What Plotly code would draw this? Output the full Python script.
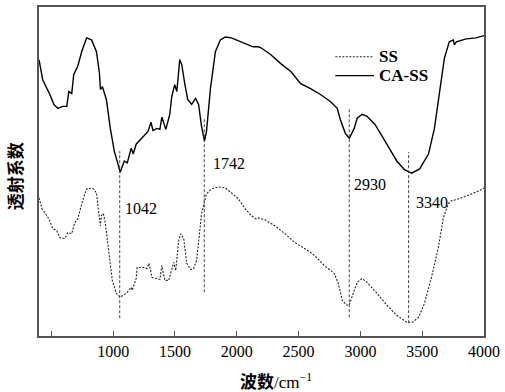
import plotly.graph_objects as go

# CA-SS spectrum (wavenumber cm^-1, transmittance a.u.)
ca_wn = [400, 430, 488, 520, 552, 592, 625, 641, 665, 681, 713, 745, 785, 825, 865, 889, 897, 913, 945, 977,
         1009, 1057, 1090, 1114, 1146, 1162, 1186, 1234, 1282, 1306, 1322, 1354, 1378, 1394, 1426, 1458, 1474,
         1498, 1515, 1539, 1555, 1579, 1603, 1635, 1667, 1691, 1715, 1739, 1755, 1787, 1827, 1867, 1907, 1956,
         2068, 2132, 2172, 2196, 2276, 2356, 2437, 2517, 2597, 2677, 2757, 2813, 2837, 2878, 2910, 2950, 2974,
         3014, 3054, 3118, 3214, 3294, 3359, 3415, 3479, 3551, 3599, 3639, 3679, 3719, 3752, 3760, 3776, 3856,
         3936, 3992, 4000]
ca_t = [84.0, 77.9, 73.4, 70.4, 69.2, 69.8, 69.8, 74.3, 73.7, 79.5, 81.9, 86.4, 90.6, 90.0, 86.4, 79.8, 74.9, 75.8,
        71.9, 63.1, 56.2, 49.8, 53.2, 52.6, 57.1, 55.3, 58.3, 60.1, 62.2, 65.0, 62.5, 63.1, 62.8, 66.5, 62.8, 67.4,
        72.8, 76.4, 74.3, 84.0, 82.5, 76.7, 71.9, 70.4, 72.2, 70.4, 63.7, 59.2, 62.2, 75.2, 86.4, 90.0, 90.9, 90.6,
        88.8, 87.9, 87.9, 87.6, 85.5, 82.8, 80.4, 76.7, 75.2, 73.4, 71.3, 69.2, 65.9, 61.6, 60.1, 63.1, 66.2,
        67.4, 66.8, 64.3, 58.3, 53.2, 50.5, 49.5, 50.8, 55.3, 63.1, 73.4, 84.3, 89.4, 90.0, 88.5, 89.4, 90.3,
        90.6, 91.2, 91.3]

# SS spectrum
ss_wn = [400, 424, 448, 480, 512, 544, 568, 608, 633, 665, 689, 713, 753, 785, 833, 865, 881, 897, 905, 921, 937,
         961, 993, 1025, 1057, 1082, 1114, 1146, 1154, 1186, 1194, 1226, 1250, 1274, 1290, 1314, 1354, 1378, 1394,
         1418, 1450, 1474, 1490, 1506, 1530, 1547, 1571, 1595, 1627, 1651, 1675, 1707, 1715, 1755, 1795, 1851,
         1907, 1956, 2012, 2068, 2116, 2156, 2172, 2228, 2308, 2389, 2469, 2549, 2629, 2709, 2789, 2821, 2853,
         2886, 2910, 2942, 2974, 3014, 3054, 3134, 3214, 3294, 3375, 3423, 3471, 3519, 3575, 3631, 3671, 3711,
         3736, 3800, 3880, 3960, 4000]
ss_t = [42.0, 38.7, 37.5, 35.6, 32.6, 32.0, 29.9, 29.6, 31.4, 31.1, 34.4, 35.6, 41.1, 44.7, 45.0, 43.5, 38.1, 33.5,
        36.6, 37.2, 34.1, 26.0, 16.9, 13.0, 11.8, 12.4, 13.3, 14.8, 13.9, 17.5, 20.8, 20.8, 20.8, 20.5, 22.1, 17.8,
        17.5, 17.2, 21.4, 16.9, 16.9, 20.5, 22.4, 19.9, 29.0, 31.1, 29.6, 22.1, 20.2, 20.5, 23.0, 34.1, 37.2, 43.2,
        44.7, 45.3, 45.0, 43.5, 41.7, 38.7, 36.6, 35.6, 35.9, 35.3, 33.5, 31.1, 28.4, 26.6, 24.5, 21.4, 19.0,
        16.0, 10.9, 9.4, 9.4, 13.0, 16.3, 17.5, 16.3, 13.0, 9.4, 6.3, 4.2, 4.2, 5.7, 10.0, 17.8, 26.9, 35.9,
        40.2, 41.1, 41.7, 42.9, 44.1, 45.0]

# Peak markers
peak_wn = [1053, 1737, 2910, 3390]
peak_top = [56.2, 65.9, 69.5, 55.9]
peak_bottom = [5.4, 13.3, 5.7, 3.9]
peak_labels = ["1042", "1742", "2930", "3340"]
label_wn = [1082, 1795, 2934, 3431]
label_t = [38.7, 52.3, 46.2, 40.5]

series_names = ["SS", "CA-SS"]

tick_vals = [500, 1000, 1500, 2000, 2500, 3000, 3500, 4000]
tick_text = ["", "1000", "1500", "2000", "2500", "3000", "3500", "4000"]

SERIF = "Liberation Serif, Times New Roman, serif"
CJK = "Liberation Serif, Noto Sans CJK SC, serif"
AXC = "#555555"

W, H = 505, 392
ML, MR, MT, MB = 39, 17, 5, 56
PW, PH = W - ML - MR, H - MT - MB


def px2paper_x(px):
    return (px - ML) / PW


def px2paper_y(py):
    return (H - MB - py) / PH


fig = go.Figure()
styles = [dict(color="#222222", width=1.1, dash="2px,1.5px"), dict(color="black", width=1.4)]
fig.add_trace(go.Scatter(x=ss_wn, y=ss_t, mode="lines", name=series_names[0], line=styles[0]))
fig.add_trace(go.Scatter(x=ca_wn, y=ca_t, mode="lines", name=series_names[1], line=styles[1]))

for w, t0, t1 in zip(peak_wn, peak_top, peak_bottom):
    fig.add_shape(type="line", x0=w, x1=w, y0=t1, y1=t0, xref="x", yref="y",
                  line=dict(color="#444444", width=1, dash="3px,2px"))

for w, t, s in zip(label_wn, label_t, peak_labels):
    fig.add_annotation(x=w, y=t, text=s, showarrow=False, xanchor="left", yanchor="middle",
                       font=dict(family=SERIF, size=16, color="black"))

# custom legend
for i, (nm, st) in enumerate(zip(series_names, styles)):
    ly = 55 + i * 19
    fig.add_shape(type="line", xref="paper", yref="paper",
                  x0=px2paper_x(338), x1=px2paper_x(377), y0=px2paper_y(ly), y1=px2paper_y(ly),
                  line=dict(color=st["color"], width=st["width"], dash=st.get("dash", "solid")))
    fig.add_annotation(x=px2paper_x(380), y=px2paper_y(ly), xref="paper", yref="paper",
                       text="<b>%s</b>" % nm, showarrow=False, xanchor="left", yanchor="middle",
                       font=dict(family=SERIF, size=17, color="black"))

fig.add_annotation(x=px2paper_x(15), y=px2paper_y(175), xref="paper", yref="paper", text="<b>透射系数</b>",
                   textangle=-90, showarrow=False, xanchor="center", yanchor="middle",
                   font=dict(family="Noto Sans CJK SC", size=17, color="black"))
fig.add_annotation(x=px2paper_x(278), y=px2paper_y(381), xref="paper", yref="paper",
                   text="<b>波数</b>/cm<sup>−1</sup>", showarrow=False,
                   xanchor="center", yanchor="middle",
                   font=dict(family=CJK, size=17, color="black"))

fig.update_layout(
    width=W, height=H,
    margin=dict(l=ML, r=MR, t=MT, b=MB),
    paper_bgcolor="white", plot_bgcolor="white",
    showlegend=False,
    xaxis=dict(range=[400, 4000], tickvals=tick_vals, ticktext=tick_text,
               ticks="inside", ticklen=5, tickcolor=AXC, tickwidth=1.2,
               showline=True, linecolor=AXC, linewidth=1.5, mirror=True,
               showgrid=False, zeroline=False,
               tickfont=dict(family=SERIF, size=16, color="black")),
    yaxis=dict(range=[0, 100], showticklabels=False, ticks="",
               showline=True, linecolor=AXC, linewidth=1.5, mirror=True,
               showgrid=False, zeroline=False),
)
fig.write_html("out.html", config={"displayModeBar": False},
               post_script="document.body.style.margin='0px';document.body.style.overflow='hidden';")
